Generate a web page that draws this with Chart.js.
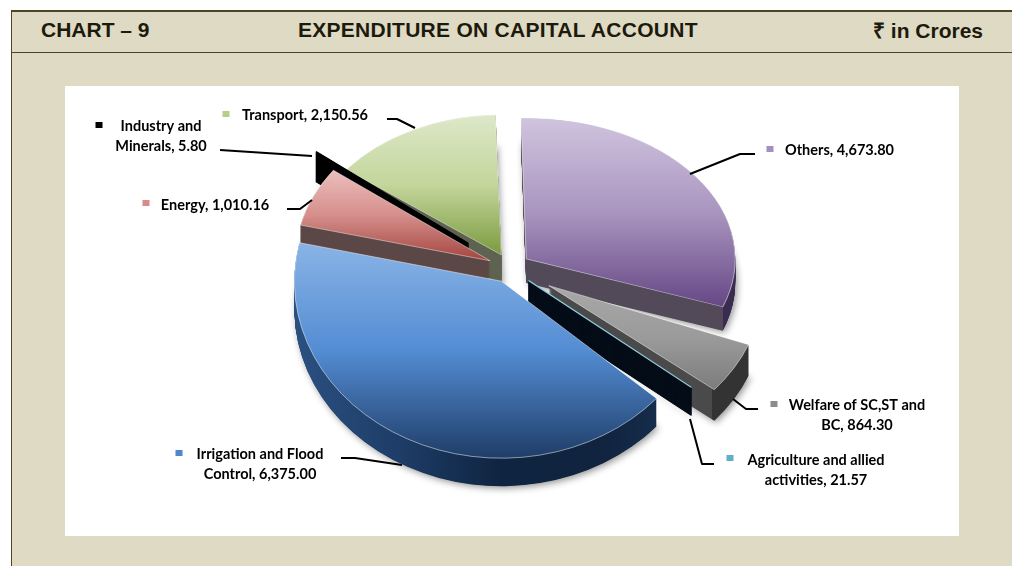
<!DOCTYPE html>
<html>
<head>
<meta charset="utf-8">
<script src="https://cdn.jsdelivr.net/npm/chart.js@4"></script>
<style>
html,body{margin:0;padding:0;background:#fff;width:1012px;height:566px;overflow:hidden}
#bg{position:absolute;left:11px;top:10px;right:0;bottom:0;background:#dfdac4;border-left:1px solid #4a4528;border-top:2px solid #4a4528}
#rule{position:absolute;left:11px;right:0;top:52px;height:1px;background:#4a4528}
#panel{position:absolute;left:65px;top:86px;width:894px;height:450px;background:#fff}
.h{position:absolute;font:bold 21px "Liberation Sans",Arial,sans-serif;color:#1c1a0c;white-space:nowrap;line-height:26px}
canvas{position:absolute;left:0;top:0}
</style>
</head>
<body>
<div id="bg"></div><div id="rule"></div><div id="panel"></div>
<div class="h" style="left:41px;top:17px">CHART – 9</div>
<div class="h" style="left:298px;top:17px;letter-spacing:.27px">EXPENDITURE ON CAPITAL ACCOUNT</div>
<div class="h" style="left:873px;top:18px">₹ in Crores</div>
<canvas id="c" width="1012" height="566"></canvas>
<script>
// ---- data ----
const categories = ['Others','Welfare of SC,ST and BC','Agriculture and allied activities','Irrigation and Flood Control','Energy','Industry and Minerals','Transport'];
const values = [4673.80,864.30,21.57,6375.00,1010.16,5.80,2150.56];

// ---- style / layout (not data) ----
const explode = [80,180,100,76,88,212,76];
const radiiX = [209,214,214,207,195,190,195];
const radiiY = [141,164,163,177,152,151,140];
const depths = [24,31,28,28,22,30,30];
const wallBorder = [0,0,1.5,0,0,2,0];
const topBorder = [1,1,1.5,1,1,2,1];
const topBorderColor = ['rgba(255,255,255,.55)','rgba(255,255,255,.55)','#92cddc','rgba(255,255,255,.55)','rgba(255,255,255,.55)','#000','rgba(255,255,255,.55)'];
const topStops = [['#d0c4de','#a995bf','#654785'],['#a8a8a8','#9a9a9a','#7a7a7a'],['#92cddc','#92cddc','#92cddc'],['#8ab4e6','#548dd4','#1f3d68'],['#ecc0be','#d58f8c','#a4443f'],['#000','#000','#000'],['#dde8c9','#c3d69b','#7b9a3f']];
const wallInner = ['#524a58','#4a4a4a','#050d18','#1d3a63','#5b4746','#000','#5d6350'];
const wallOuter = ['#3a2c50','#333333','#050d18','#1d3a63','#5b4746','#000','#5d6350'];
const keyColors = ['#a58fbf','#8c8c8c','#5fb0c8','#4f86d0','#d88c8a','#000','#b5cf86'];
const drawOrder = [6,5,4,0,1,2,3];
const labelBreak = [0,4,3,3,0,2,0];
const labelCx = [839.5,857,816,260,215,161,305];
const labelY = [150,405,460,454,205,126,115];
const keyPos = [[770,149],[774,404],[730,458],[179,453],[146,203],[99,125],[226,114]];
const leaders = [[[690,174],[740,154],[755,154]],[[733,399],[746,409],[758,409]],[[690,419],[702,464],[714,464]],[[341,458],[355,458],[402,465]],[[287,209],[300,209],[312,200]],[[220,150],[312,156]],[[387,119],[397,119],[415,128]]];
const tilt = 0.78, baseR = 200;

const fmt = v => v.toLocaleString('en-US',{minimumFractionDigits:2,maximumFractionDigits:2});

function opts(arc, bg, bw, bc){
  return {backgroundColor:bg,borderColor:bc||'transparent',borderWidth:bw||0,borderAlign:'center',
    borderJoinStyle:'round',borderRadius:0,offset:arc.options.offset,spacing:0,circular:true,
    borderDash:[],borderDashOffset:0,angle:undefined};
}
function sliceBounds(arc,r){
  let lo=0,hi=0;
  for(let i=0;i<=24;i++){const a=arc.startAngle+(arc.endAngle-arc.startAngle)*i/24;
    const s=Math.sin(a)*r;lo=Math.min(lo,s);hi=Math.max(hi,s);}
  return [arc.y+lo,arc.y+hi];
}
const pie3d = {
  id:'pie3d',
  beforeDatasetsDraw(chart){
    const ctx=chart.ctx, arcs=chart.getDatasetMeta(0).data;
    const cx=arcs[0].x, cy=arcs[0].y;
    drawOrder.forEach(i=>{
      const arc=arcs[i], saved=arc.options;
      const mid=(arc.startAngle+arc.endAngle)/2, d=explode[i]/4;
      const r=arc.outerRadius+d*(1-Math.sin(Math.min(Math.PI,arc.circumference)));
      const lx=arc.x+Math.cos(mid)*d, ly=arc.y+Math.sin(mid)*d;
      const ax=cx+Math.cos(mid)*d, ay=cy+Math.sin(mid)*d*tilt;
      const sx=radiiX[i]/r, sy=radiiY[i]/r;
      const place=dy=>{ctx.setTransform(sx,0,0,sy,ax-lx*sx,ay-ly*sy+dy);};
      let wall=ctx.createLinearGradient(arc.x-r,0,arc.x+r,0);
      if(i===3){
        wall.addColorStop(0,'#2b5080');wall.addColorStop(.25,'#1e3d68');wall.addColorStop(.5,'#0f2440');
        wall.addColorStop(.75,'#10243f');wall.addColorStop(1,'#1b3556');
      }else{
        const f=Math.min(1,Math.max(0,(1+Math.cos(arc.endAngle))/2));
        wall.addColorStop(0,wallInner[i]);wall.addColorStop(f,wallInner[i]);
        wall.addColorStop(f,wallOuter[i]);wall.addColorStop(1,wallOuter[i]);
      }
      arc.options=opts(arc,wall,wallBorder[i],wallInner[i]);
      for(let dy=depths[i];dy>=0.5;dy-=0.5){
        ctx.save();place(dy);
        if(dy===depths[i]){ctx.shadowColor='rgba(0,0,0,.42)';ctx.shadowBlur=7;ctx.shadowOffsetX=2;ctx.shadowOffsetY=2;}
        arc.draw(ctx);ctx.restore();
      }
      const [y0,y1]=sliceBounds(arc,r);
      const g=ctx.createLinearGradient(0,y0,0,y1);
      g.addColorStop(0,topStops[i][0]);g.addColorStop(.5,topStops[i][1]);g.addColorStop(1,topStops[i][2]);
      arc.options=opts(arc,g,topBorder[i],topBorderColor[i]);
      ctx.save();place(0);arc.draw(ctx);ctx.restore();
      arc.options=saved;
    });
    ctx.setTransform(1,0,0,1,0,0);

    ctx.strokeStyle='#000';ctx.lineJoin='round';
    leaders.forEach(pts=>{
      ctx.lineWidth=2;ctx.beginPath();
      pts.forEach((p,k)=>k?ctx.lineTo(p[0],p[1]):ctx.moveTo(p[0],p[1]));ctx.stroke();
    });
    ctx.font='bold 14.5px Lato, "Open Sans", sans-serif';
    ctx.textAlign='center';ctx.textBaseline='middle';
    categories.forEach((name,i)=>{
      ctx.fillStyle=keyColors[i];
      ctx.fillRect(keyPos[i][0]-3.5,keyPos[i][1]-3,7,6);
      ctx.fillStyle='#000';
      const text=name+', '+fmt(values[i]);
      if(labelBreak[i]){
        const w=text.split(' ');
        ctx.fillText(w.slice(0,labelBreak[i]).join(' '),labelCx[i],labelY[i]);
        ctx.fillText(w.slice(labelBreak[i]).join(' '),labelCx[i],labelY[i]+20);
      }else ctx.fillText(text,labelCx[i],labelY[i]);
    });
    return false;
  }
};
new Chart(document.getElementById('c'),{
  type:'pie',
  data:{labels:categories,datasets:[{data:values,offset:explode,backgroundColor:keyColors,borderWidth:0}]},
  options:{
    responsive:false,animation:false,rotation:-1.5,radius:baseR,
    layout:{padding:{left:8,right:0,top:0,bottom:30}},
    plugins:{legend:{display:false},tooltip:{enabled:false},title:{display:false}},
    events:[]
  },
  plugins:[pie3d]
});
</script>
</body>
</html>
